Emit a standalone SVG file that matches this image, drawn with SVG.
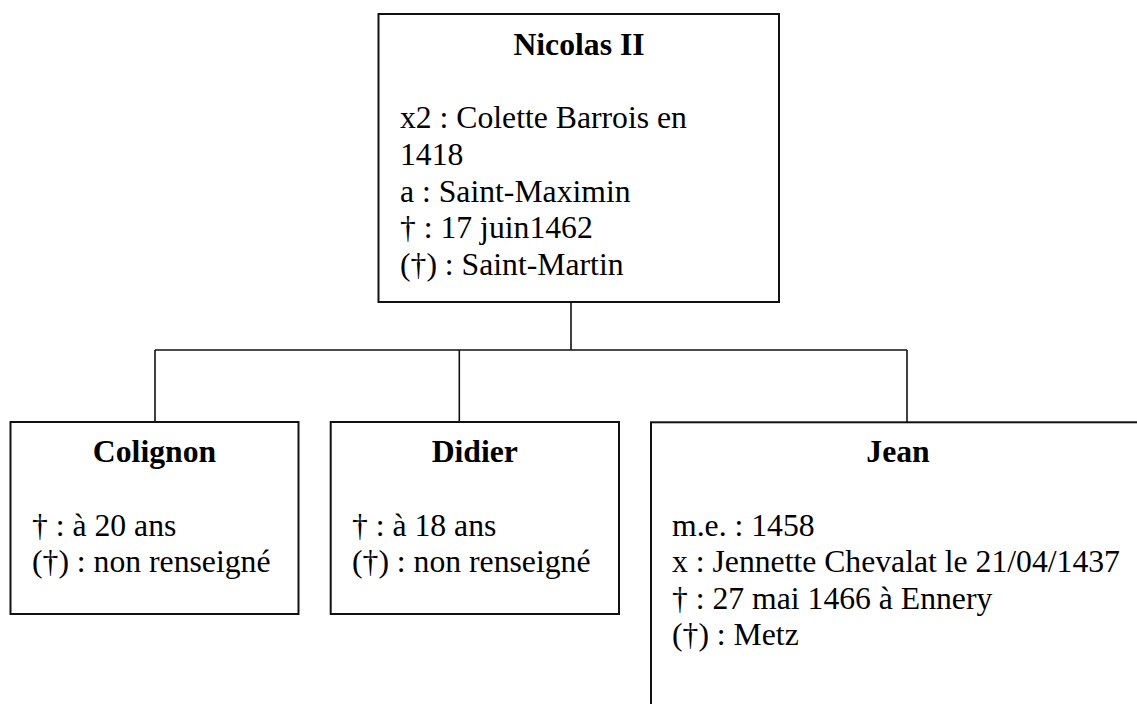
<svg xmlns="http://www.w3.org/2000/svg" width="1137" height="704" viewBox="0 0 1137 704">
<style>
  .box { fill: #ffffff; stroke: #111111; stroke-width: 2; }
  .conn { fill: none; stroke: #111111; stroke-width: 1.6; }
  text { font-family: "Liberation Serif", "Times New Roman", serif; font-size: 31.7px; fill: #000000; }
  .title { font-weight: bold; text-anchor: middle; }
</style>
<rect x="0" y="0" width="1137" height="704" fill="#ffffff"/>
<g id="connectors">
  <line class="conn" x1="571" y1="302" x2="571" y2="350"/>
  <line class="conn" x1="155" y1="350" x2="907" y2="350"/>
  <line class="conn" x1="155" y1="350" x2="155" y2="422"/>
  <line class="conn" x1="459.3" y1="350" x2="459.3" y2="422"/>
  <line class="conn" x1="907" y1="350" x2="907" y2="422"/>
</g>
<g id="nicolas">
  <rect class="box" x="378.5" y="14" width="400.5" height="288"/>
  <text class="title" x="579" y="55">Nicolas II</text>
  <text x="400" y="128.3">x2 : Colette Barrois en</text>
  <text x="400" y="165">1418</text>
  <text x="400" y="201.6">a : Saint-Maximin</text>
  <text x="400" y="238.2">† : 17 juin1462</text>
  <text x="400" y="274.8">(†) : Saint-Martin</text>
</g>
<g id="colignon">
  <rect class="box" x="10.5" y="422" width="288" height="192"/>
  <text class="title" x="154.5" y="462">Colignon</text>
  <text x="32" y="535.5">† : à 20 ans</text>
  <text x="32" y="572">(†) : non renseigné</text>
</g>
<g id="didier">
  <rect class="box" x="330.7" y="422" width="288.3" height="192"/>
  <text class="title" x="474.8" y="462">Didier</text>
  <text x="352" y="535.5">† : à 18 ans</text>
  <text x="352" y="572">(†) : non renseigné</text>
</g>
<g id="jean">
  <rect class="box" x="651" y="422.3" width="494" height="320"/>
  <text class="title" x="898" y="462">Jean</text>
  <text x="672" y="535.5">m.e. : 1458</text>
  <text x="672" y="572">x : Jennette Chevalat le 21/04/1437</text>
  <text x="672" y="608.5">† : 27 mai 1466 à Ennery</text>
  <text x="672" y="645">(†) : Metz</text>
</g>
</svg>
